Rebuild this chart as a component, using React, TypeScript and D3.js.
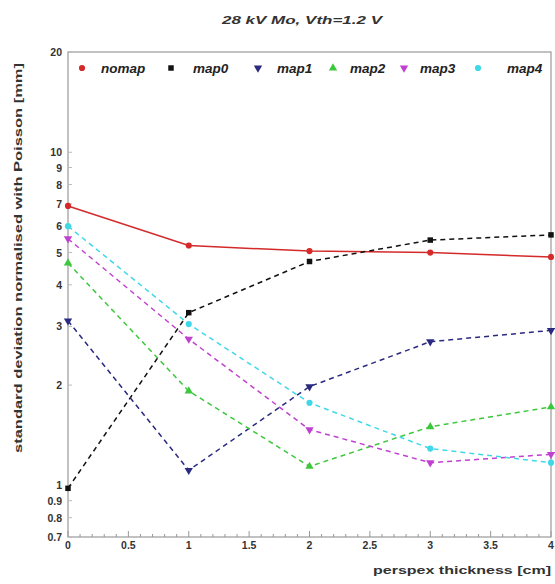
import React from "react";
import * as d3 from "d3";

const W = 555;
const H = 584;
const margin = { top: 52, right: 4, bottom: 47, left: 68 };

const thickness = [0, 1, 2, 3, 4];
const nomap = [6.9, 5.25, 5.05, 5.0, 4.85];
const map0 = [0.98, 3.3, 4.7, 5.45, 5.65];
const map1 = [3.12, 1.11, 1.98, 2.7, 2.92];
const map2 = [4.65, 1.92, 1.14, 1.5, 1.72];
const map3 = [5.5, 2.75, 1.47, 1.17, 1.24];
const map4 = [6.0, 3.05, 1.77, 1.29, 1.17];

const yTicks = [0.7, 0.8, 0.9, 1, 2, 3, 4, 5, 6, 7, 8, 9, 10, 20];
const xTicks = [0, 0.5, 1, 1.5, 2, 2.5, 3, 3.5, 4];

const series = [
  { name: "nomap", values: nomap, color: "#d42a2a", dash: "", shape: d3.symbolCircle },
  { name: "map0", values: map0, color: "#111111", dash: "5,4", shape: d3.symbolSquare },
  { name: "map1", values: map1, color: "#2a2a80", dash: "5,4", shape: "down" },
  { name: "map2", values: map2, color: "#3cc83c", dash: "5,4", shape: d3.symbolTriangle },
  { name: "map3", values: map3, color: "#c040d0", dash: "5,4", shape: "down" },
  { name: "map4", values: map4, color: "#40d8e8", dash: "5,4", shape: d3.symbolCircle },
];

const x = d3.scaleLinear().domain([0, 4]).range([margin.left, W - margin.right]);
const y = d3.scaleLog().domain([0.7, 20]).range([H - margin.bottom, margin.top]);

function marker(shape: any, size: number) {
  if (shape === "down") {
    const p = d3.symbol(d3.symbolTriangle, size)() as string;
    return { d: p, rot: 180 };
  }
  return { d: d3.symbol(shape, size)() as string, rot: 0 };
}

export default function App() {
  const line = d3
    .line<number>()
    .x((_, i) => x(thickness[i]))
    .y((v) => y(v));
  const minorX = d3.range(0, 4.001, 0.1);
  // legend marker x and text start x
  const legendM = [82, 171, 258, 333, 404, 478];
  const legendT = [101, 193, 277, 350, 420, 507];
  const fontB = "Liberation Sans, Arial, sans-serif";

  return (
    <svg width={W} height={H} style={{ position: "absolute", left: 0, top: 0, background: "#fff" }}>
      <text x={302} y={24} textAnchor="middle" fontFamily={fontB} fontSize={10.5} fontWeight="bold" fontStyle="italic" fill="#333" textLength={160} lengthAdjust="spacingAndGlyphs">
        28 kV Mo, Vth=1.2 V
      </text>
      <rect
        x={margin.left}
        y={margin.top}
        width={W - margin.left - margin.right}
        height={H - margin.top - margin.bottom}
        fill="none"
        stroke="#999"
        strokeWidth={1.2}
      />
      {minorX.map((t, i) => (
        <line key={"mx" + i} x1={x(t)} x2={x(t)} y1={y(0.7)} y2={y(0.7) - (i % 5 === 0 ? 6 : 3)} stroke="#999" />
      ))}
      {yTicks.map((t) => (
        <g key={"y" + t}>
          <line x1={margin.left} x2={margin.left + 4} y1={y(t)} y2={y(t)} stroke="#bbb" />
          <text x={62} y={y(t) + 4} textAnchor="end" fontFamily={fontB} fontSize={10.5} fontWeight="bold" fill="#333">
            {t}
          </text>
        </g>
      ))}
      {xTicks.map((t) => (
        <text key={"x" + t} x={x(t)} y={549} textAnchor="middle" fontFamily={fontB} fontSize={10.5} fontWeight="bold" fill="#333">
          {t}
        </text>
      ))}
      <text x={373} y={574} fontFamily={fontB} fontSize={11.5} fontWeight="bold" fill="#333" textLength={178} lengthAdjust="spacingAndGlyphs">
        perspex thickness [cm]
      </text>
      <text
        transform={`translate(22,${258}) rotate(-90)`}
        textAnchor="middle"
        fontFamily={fontB}
        fontSize={11}
        fontWeight="bold"
        fill="#333"
        textLength={390}
        lengthAdjust="spacingAndGlyphs"
      >
        standard deviation normalised with Poisson [mm]
      </text>
      {series.map((s) => (
        <g key={s.name}>
          <path d={line(s.values) as string} fill="none" stroke={s.color} strokeWidth={1.5} strokeDasharray={s.dash} />
          {s.values.map((v, i) => {
            const m = marker(s.shape, 30);
            return (
              <path
                key={i}
                d={m.d}
                transform={`translate(${x(thickness[i])},${y(v)}) rotate(${m.rot})`}
                fill={s.color}
              />
            );
          })}
        </g>
      ))}
      {series.map((s, i) => {
        const m = marker(s.shape, 30);
        return (
          <g key={"lg" + s.name}>
            <path d={m.d} transform={`translate(${legendM[i]},${68}) rotate(${m.rot})`} fill={s.color} />
            <text x={legendT[i]} y={73} fontFamily={fontB} fontSize={13.5} fontWeight="bold" fontStyle="italic" fill="#222">
              {s.name}
            </text>
          </g>
        );
      })}
    </svg>
  );
}
